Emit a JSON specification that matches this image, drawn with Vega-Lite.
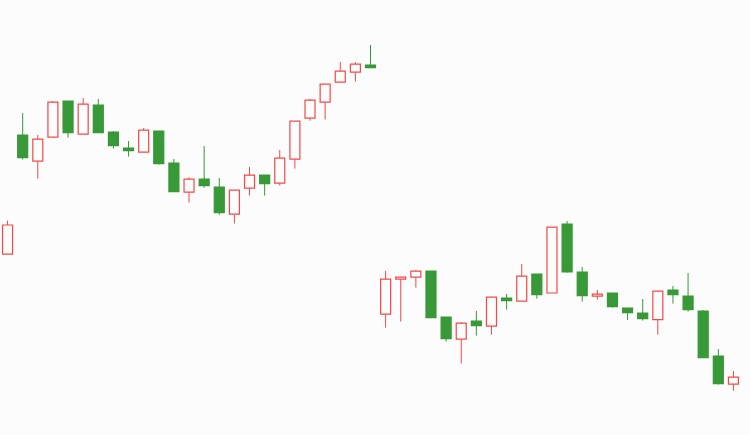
{
  "$schema": "https://vega.github.io/schema/vega-lite/v6.json",
  "width": 741,
  "height": 435,
  "padding": {"left": 0, "top": 0, "bottom": 0, "right": 9},
  "autosize": {"type": "none"},
  "background": "#fcfcfc",
  "config": {"view": {"stroke": null}},
  "data": {"values": [
    {"i":1,"open":17.29,"close":18.75,"high":18.97,"low":17.29},
    {"i":2,"open":23.25,"close":22.12,"high":24.35,"low":22.02},
    {"i":3,"open":21.94,"close":23.04,"high":23.25,"low":21.07},
    {"i":4,"open":23.14,"close":24.89,"high":24.95,"low":23.14},
    {"i":5,"open":24.95,"close":23.37,"high":24.95,"low":23.12},
    {"i":6,"open":23.29,"close":24.79,"high":25.1,"low":23.29},
    {"i":7,"open":24.75,"close":23.37,"high":25.05,"low":23.35},
    {"i":8,"open":23.4,"close":22.72,"high":23.45,"low":22.57},
    {"i":9,"open":22.6,"close":22.47,"high":22.95,"low":22.17},
    {"i":10,"open":22.39,"close":23.49,"high":23.6,"low":22.39},
    {"i":11,"open":23.45,"close":21.82,"high":23.45,"low":21.77},
    {"i":12,"open":21.85,"close":20.42,"high":22.05,"low":20.42},
    {"i":13,"open":20.39,"close":21.04,"high":21.14,"low":19.87},
    {"i":14,"open":21.05,"close":20.72,"high":22.7,"low":20.62},
    {"i":15,"open":20.65,"close":19.37,"high":21.1,"low":19.27},
    {"i":16,"open":19.29,"close":20.49,"high":20.49,"low":18.82},
    {"i":17,"open":20.59,"close":21.24,"high":21.65,"low":20.22},
    {"i":18,"open":21.25,"close":20.82,"high":21.25,"low":20.22},
    {"i":19,"open":20.84,"close":22.09,"high":22.5,"low":20.72},
    {"i":20,"open":22.04,"close":23.94,"high":23.94,"low":21.57},
    {"i":21,"open":24.09,"close":24.99,"high":25.05,"low":23.97},
    {"i":22,"open":24.89,"close":25.79,"high":25.79,"low":24.02},
    {"i":23,"open":25.89,"close":26.44,"high":26.9,"low":25.89},
    {"i":24,"open":26.39,"close":26.79,"high":26.89,"low":25.92},
    {"i":25,"open":26.75,"close":26.62,"high":27.75,"low":26.62},
    {"i":26,"open":14.29,"close":16.04,"high":16.45,"low":13.62},
    {"i":27,"open":16.04,"close":16.14,"high":16.14,"low":13.92},
    {"i":28,"open":16.14,"close":16.44,"high":16.5,"low":15.62},
    {"i":29,"open":16.45,"close":14.12,"high":16.45,"low":14.12},
    {"i":30,"open":14.15,"close":13.07,"high":14.15,"low":12.92},
    {"i":31,"open":13.04,"close":13.84,"high":13.9,"low":11.82},
    {"i":32,"open":13.95,"close":13.72,"high":14.45,"low":13.22},
    {"i":33,"open":13.69,"close":15.14,"high":15.14,"low":13.27},
    {"i":34,"open":15.1,"close":14.97,"high":15.3,"low":14.52},
    {"i":35,"open":14.94,"close":16.19,"high":16.8,"low":14.94},
    {"i":36,"open":16.3,"close":15.27,"high":16.3,"low":15.07},
    {"i":37,"open":15.35,"close":18.64,"high":18.64,"low":15.35},
    {"i":38,"open":18.8,"close":16.4,"high":18.95,"low":16.37},
    {"i":39,"open":16.4,"close":15.22,"high":16.65,"low":14.92},
    {"i":40,"open":15.19,"close":15.29,"high":15.5,"low":15.02},
    {"i":41,"open":15.35,"close":14.67,"high":15.35,"low":14.62},
    {"i":42,"open":14.6,"close":14.37,"high":14.6,"low":14.0},
    {"i":43,"open":14.35,"close":14.07,"high":15.05,"low":13.97},
    {"i":44,"open":14.02,"close":15.44,"high":15.44,"low":13.27},
    {"i":45,"open":15.5,"close":15.27,"high":15.7,"low":14.82},
    {"i":46,"open":15.2,"close":14.52,"high":16.35,"low":14.42},
    {"i":47,"open":14.45,"close":12.12,"high":14.5,"low":12.12},
    {"i":48,"open":12.2,"close":10.82,"high":12.55,"low":10.77},
    {"i":49,"open":10.79,"close":11.14,"high":11.45,"low":10.47}
  ]},
  "encoding": {
    "x": {"field": "i", "type": "ordinal", "axis": null,
          "scale": {"paddingInner": 0, "paddingOuter": 0}},
    "color": {
      "condition": {"test": "datum.close > datum.open", "value": "#f44848"},
      "value": "#379937"
    }
  },
  "layer": [
    {
      "mark": {"type": "rule", "strokeWidth": 1},
      "encoding": {
        "y": {"field": "low", "type": "quantitative", "axis": null,
              "scale": {"domain": [8.25, 30], "zero": false, "nice": false}},
        "y2": {"field": "high"}
      }
    },
    {
      "mark": {"type": "bar", "size": 10, "strokeWidth": 1.2},
      "encoding": {
        "y": {"field": "open", "type": "quantitative"},
        "y2": {"field": "close"},
        "fill": {
          "condition": {"test": "datum.close > datum.open", "value": "#fcfcfc"},
          "value": "#379937"
        },
        "stroke": {
          "condition": {"test": "datum.close > datum.open", "value": "#f44848"},
          "value": "#379937"
        }
      }
    }
  ]
}
